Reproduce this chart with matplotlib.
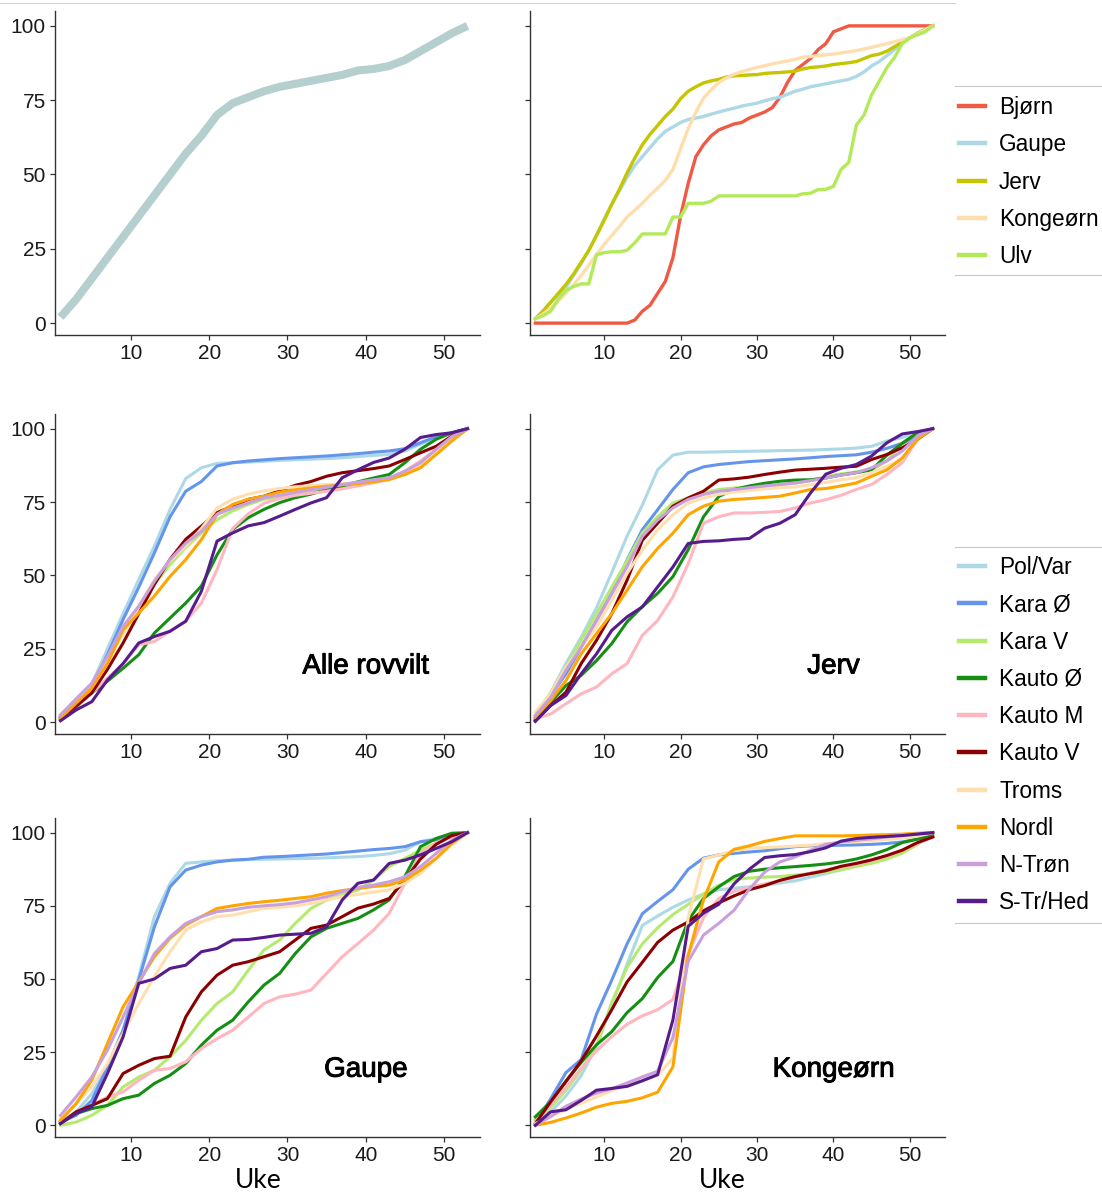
import matplotlib
matplotlib.use("Agg")
import matplotlib.pyplot as plt
import matplotlib.patheffects as pe
from matplotlib import font_manager as fm
from matplotlib.lines import Line2D

# weeks used for the regional panels and the total curve
weeks = list(range(1, 54, 2))
weeks_all = list(range(1, 54))

# total, all species
total = [2, 8, 15, 22, 29, 36, 43, 50, 57, 63, 70, 74, 76, 78, 79.5, 80.5, 81.5,
         82.5, 83.5, 85, 85.5, 86.5, 88.5, 91.5, 94.5, 97.5, 100]

# per species (weekly)
species = ["Bjørn", "Gaupe", "Jerv", "Kongeørn", "Ulv"]
species_colors = ["#EE5A44", "#ADD8E6", "#C5C500", "#FFDEAD", "#B3EA5A"]
bjorn = [0] * 13 + [1, 4, 6, 10, 14, 22, 36, 47, 56, 60, 63, 65, 66, 67, 67.5, 69, 70,
                    71, 72.5, 76, 81, 85, 87, 89, 92, 94, 98, 99, 100] + [100] * 11
gaupe = [1.5, 4, 7, 9.5, 12, 16, 20, 24.5, 29.5, 35, 40, 44.5, 49, 53, 56, 59, 62,
         64.5, 66, 67.5, 68.5, 69, 69.5, 70.3, 71, 71.7, 72.3, 73, 73.5, 74, 74.8,
         75.5, 76, 77, 78, 78.7, 79.5, 80, 80.5, 81, 81.5, 82, 83, 84.5, 86.5, 88,
         90, 92, 94.5, 96, 97.5, 98.8, 100]
jerv = [1.5, 4, 7, 10, 13, 16.5, 20.5, 24.5, 29.5, 34.5, 40, 45, 50.5, 55.5, 60,
        63.5, 66.5, 69.5, 72, 75.5, 78, 79.5, 80.8, 81.5, 82, 82.8, 83.2, 83.3, 83.5,
        83.6, 84, 84.2, 84.3, 84.5, 84.8, 85.5, 86, 86.2, 86.5, 87, 87.3, 87.6, 88,
        89, 90, 90.5, 91.5, 93, 94.5, 96, 97.5, 98.8, 100]
kongeorn = [1.5, 3, 5, 7.5, 10, 13, 16, 19.5, 23, 26.5, 29.5, 32.5, 35.7, 38, 40.3,
            43, 45.4, 48, 51.7, 58.6, 65.4, 71, 75.7, 78.5, 81, 82.5, 83.7, 84.6,
            85.3, 86, 86.6, 87.2, 87.7, 88.2, 88.8, 89.4, 89.7, 90, 90.3, 90.5, 90.9,
            91.3, 91.7, 92.2, 92.8, 93.4, 94, 94.7, 95.3, 96, 97.3, 98.6, 100]
ulv = [1.5, 2.5, 4, 8, 11, 12.3, 13.2, 13.2, 23, 23.7, 24, 24, 24.5, 27, 30, 30, 30,
       30, 35.7, 35.7, 40.3, 40.3, 40.3, 41, 42.8, 42.8, 42.8, 42.8, 42.8, 42.8,
       42.8, 42.8, 42.8, 42.8, 42.8, 43.5, 43.7, 44.9, 45, 46, 51.7, 54, 66.6, 70,
       76.8, 81.4, 86, 89.4, 94, 96, 97, 98, 100]
species_vals = [bjorn, gaupe, jerv, kongeorn, ulv]

# regions
regions = ["Pol/Var", "Kara Ø", "Kara V", "Kauto Ø", "Kauto M", "Kauto V",
           "Troms", "Nordl", "N-Trøn", "S-Tr/Hed"]
region_colors = ["#ADD8E6", "#6495ED", "#B4EB6E", "#148F14", "#FFB6C1", "#8B0000",
                 "#FFDFAF", "#FFA500", "#C9A0DC", "#561B8D"]

alle = {
    "Pol/Var": [2, 7, 13, 25, 37, 48.6, 60, 72.5, 83, 86.7, 88.2, 88.4, 88.6, 88.9, 89.2,
                89.4, 89.6, 89.8, 90.1, 90.5, 90.9, 91.2, 92.4, 94.7, 97, 98.6, 100],
    "Kara Ø": [2, 7, 12, 23, 35, 46, 57.7, 70, 78.7, 82, 87.3, 88.4, 89, 89.4, 89.8, 90.1,
               90.4, 90.7, 91.1, 91.5, 92, 92.4, 93.2, 95.2, 97.3, 98.6, 100],
    "Kara V": [2.5, 7.5, 13, 21.5, 30, 39.5, 47, 53.7, 59.5, 64.5, 69, 72, 74.2, 76, 76.7,
               77.5, 78.3, 79.3, 80.2, 81, 82, 83.3, 84.4, 86.7, 91.8, 96.4, 100],
    "Kauto Ø": [1, 5.3, 10, 14, 18.4, 23, 30.4, 35.5, 40.6, 46.4, 57, 65.7, 69.7, 72.5,
                74.8, 76.5, 77.7, 79.3, 80.4, 81.9, 83.2, 84.4, 88.4, 93, 96.4, 98.6, 100],
    "Kauto M": [1.4, 5.5, 10, 15, 20, 26.4, 27.5, 31, 34.4, 40.6, 52, 66, 71, 74.6, 76.2,
                77.3, 78, 78.7, 79.5, 80.5, 81.6, 82.7, 85.5, 89, 93, 96.4, 100],
    "Kauto V": [1.4, 5.5, 10, 18, 27, 37, 47, 55.5, 62.3, 66.8, 71.4, 73.6, 75.9, 77, 78.8,
                80.7, 82, 83.8, 85, 85.7, 86.4, 87.3, 89.5, 91.8, 94, 97.5, 100],
    "Troms": [2.5, 7.5, 12.7, 21.5, 30, 39.5, 48.6, 55, 60, 66, 73, 76, 77.7, 78.8, 79.6,
              80.2, 80.6, 81, 81.2, 81.5, 82, 82.7, 85, 87.8, 91.8, 96.4, 100],
    "Nordl": [1.4, 6.5, 11.7, 20, 31.5, 37.2, 43, 49.7, 55.4, 62.2, 70.8, 74.2, 76, 77,
              78.4, 79.2, 79.8, 80.4, 80.9, 81.3, 81.9, 82.7, 84.4, 86.7, 91.2, 95.8, 100],
    "N-Trøn": [2.5, 8, 13.3, 22.4, 32.7, 39.5, 48, 55.4, 61, 65, 70.8, 73, 74.7, 76.5,
               77.3, 78.3, 79.2, 80, 81, 81.8, 82.6, 83.3, 85.5, 88.4, 93, 97.3, 100],
    "S-Tr/Hed": [0.5, 4.2, 7, 14.4, 20, 27, 29.2, 31, 34.4, 44.6, 61.7, 64.5, 66.9, 68,
                 70.2, 72.5, 74.7, 76.5, 83.3, 86, 88.5, 90, 93, 97, 98, 98.6, 100],
}

jerv_reg = {
    "Pol/Var": [2.3, 10, 20, 29, 39, 51, 63.4, 74, 86, 91, 92, 92, 92.1, 92.2, 92.3, 92.4,
                92.5, 92.6, 92.7, 92.9, 93.1, 93.4, 94, 95.8, 97, 98.6, 100],
    "Kara Ø": [1.7, 9, 16.5, 25.5, 34.7, 44, 55.3, 65.6, 72.4, 79.3, 85, 87, 87.8, 88.3,
               88.8, 89.1, 89.4, 89.7, 90.1, 90.5, 90.8, 91.1, 92, 93.3, 95, 97.5, 100],
    "Kara V": [2.3, 10, 18.8, 28, 37, 46, 55, 64.5, 70, 74.7, 76.4, 78, 79.3, 79.8, 80.1,
               80.5, 81, 81.5, 82.3, 83.6, 84.6, 85.3, 86, 89, 95.2, 98.6, 100],
    "Kauto Ø": [1.1, 6.8, 12.5, 16, 21, 26.8, 34.2, 39.4, 43.9, 49.6, 58.8, 70, 76.9, 79.3,
                80.5, 81.4, 82.1, 82.5, 82.6, 83.2, 84.2, 85, 86, 91, 95, 98.6, 100],
    "Kauto M": [1.1, 2.8, 6.3, 9.7, 12, 16.5, 20, 29.6, 34.7, 42.7, 54, 67.8, 70, 71.3,
                71.3, 71.5, 71.8, 73, 74.7, 75.8, 77.3, 79.3, 81, 84.4, 88.4, 96.4, 100],
    "Kauto V": [0.6, 5.7, 10.2, 20, 27.9, 37, 48.4, 62, 67.8, 73.6, 76.4, 78.7, 82.5, 82.9,
                83.5, 84.4, 85.2, 85.9, 86.2, 86.5, 86.9, 87.2, 89.5, 91.2, 93.5, 96.4, 100],
    "Troms": [3.4, 9.7, 18.8, 25.6, 32.5, 41.6, 50.7, 58.7, 65.6, 70.7, 74.7, 76.4, 77.6,
              78.4, 79, 79.5, 79.9, 80.2, 80.9, 81.7, 82.6, 83.3, 85, 87.2, 89.5, 97.5, 100],
    "Nordl": [1.7, 7.4, 14.2, 23.3, 30.2, 37, 45, 53, 59.2, 64.4, 70.7, 73.6, 75.3, 75.9,
              76.2, 76.6, 77, 78.1, 79.3, 79.6, 80.5, 81.5, 83.8, 86, 90, 96.4, 100],
    "N-Trøn": [2.3, 8.5, 17.7, 25.6, 34.7, 43.8, 53, 63.3, 68.9, 73, 75.9, 77.6, 78.7, 79.3,
               79.9, 80.5, 81, 81.5, 82.3, 83.2, 84.2, 85, 86.7, 89, 92.4, 97.5, 100],
    "S-Tr/Hed": [0.3, 5.7, 9.1, 16.5, 23.3, 31.3, 35.9, 39.3, 46.1, 52.9, 60.9, 61.6, 61.8,
                 62.3, 62.6, 66.1, 67.8, 70.7, 78.1, 84.5, 86.5, 87.8, 90.7, 95.2, 98.2, 99, 100],
}

gaupe_reg = {
    "Pol/Var": [1.1, 4.6, 10.8, 20, 32.5, 50.8, 71.3, 82.7, 89.5, 90, 90.4, 90.6, 90.8,
                90.9, 91, 91.1, 91.2, 91.4, 91.6, 91.8, 92.2, 92.8, 94, 96.9, 98, 99.2, 100],
    "Kara Ø": [1.1, 3.4, 8.5, 20, 32.5, 49.6, 67.8, 81.5, 87.2, 88.9, 90, 90.6, 90.9, 91.6,
               91.8, 92.1, 92.4, 92.7, 93.2, 93.7, 94.2, 94.6, 95.2, 96.9, 97.5, 99.2, 100],
    "Kara V": [0, 1.1, 3.4, 6.8, 13.1, 16.5, 18.8, 23.4, 29, 35.9, 41.6, 45.6, 53, 59.9,
               63.3, 69, 74.1, 77, 78.7, 80.4, 83.8, 88.4, 91.2, 94, 96.4, 98.6, 100],
    "Kauto Ø": [1.1, 4, 5.7, 6.8, 9.1, 10.3, 14.3, 17.1, 21.1, 27.4, 32.5, 35.9, 42.2, 47.9,
                51.9, 58.7, 64.4, 67.3, 69, 70.7, 73.6, 77, 85, 95.2, 98, 99.8, 100],
    "Kauto M": [1.1, 4, 6.8, 9.7, 11.4, 15.4, 18.8, 19.4, 21.7, 26.2, 29.6, 32.5, 37, 41.6,
                43.9, 44.8, 46.2, 51.9, 57.6, 62.1, 66.7, 72.4, 82.7, 92.9, 96.4, 98.6, 100],
    "Kauto V": [0.6, 4.6, 6.8, 9.1, 17.7, 20.5, 22.8, 23.6, 37, 45.6, 51.3, 54.7, 55.9,
                57.6, 59.3, 63.3, 67.3, 68.4, 71.3, 74.2, 75.6, 77.5, 83.8, 91, 96, 99, 100],
    "Troms": [2.3, 7.4, 13.1, 21.1, 31.4, 41.6, 50.8, 59.3, 66.7, 69.5, 71.3, 71.8, 73,
              74.1, 74.5, 75, 75.8, 77, 78.1, 78.9, 79.7, 80.4, 82.7, 86.1, 91.2, 95.8, 100],
    "Nordl": [1.7, 7.4, 15.4, 27.9, 40.5, 49, 57.6, 63.9, 68.4, 71.3, 74.1, 75, 75.8, 76.4,
              76.9, 77.5, 78.1, 79.3, 80.2, 80.9, 81.6, 82.1, 83.8, 87.2, 91.2, 96.4, 100],
    "N-Trøn": [3.4, 9.7, 16.5, 25.7, 37, 48.5, 58.7, 64.4, 69, 71.3, 73, 73.6, 74.5, 75,
               75.4, 76, 77, 78.1, 79.8, 81.3, 82.1, 83.2, 84.9, 88.4, 92.9, 97.5, 100],
    "S-Tr/Hed": [0.6, 4, 6.3, 17.7, 30.2, 48.5, 50, 53.6, 54.7, 59.3, 60.4, 63.3, 63.5,
                 64.2, 65, 65.3, 65.6, 67.8, 77, 82.7, 83.8, 89.5, 90.6, 92.4, 94.6, 96.9, 100],
}

kongeorn_reg = {
    "Pol/Var": [1.5, 4.5, 10, 17, 27, 41, 55, 68.3, 71.5, 74.5, 77, 79, 80.5, 81, 81.5, 82,
                82.8, 83.5, 84.8, 86, 87.3, 88.6, 90, 91.5, 93.3, 96, 100],
    "Kara Ø": [0.6, 9, 18, 22.5, 38, 49.6, 62, 72.3, 76.5, 80.5, 87.5, 91.3, 92.4, 92.9,
               93.4, 93.8, 94.5, 95.2, 95.5, 95.6, 95.7, 95.8, 96, 96.3, 96.8, 97.8, 100],
    "Kara V": [2, 6, 12, 19, 27, 42, 54, 62, 67.5, 72, 75.5, 79, 82, 84, 84.5, 84.8, 85,
               85.5, 86, 86.5, 87.3, 88.5, 89.5, 91, 93, 96, 100],
    "Kauto Ø": [2.9, 8, 15, 21.5, 27.5, 32, 38.5, 43.3, 50.5, 56, 70, 77.5, 81.5, 85, 86.8,
                87.5, 88, 88.4, 88.8, 89.3, 90, 91, 92.4, 94.2, 96.6, 97.8, 99],
    "Kauto M": [1, 7, 13, 19.5, 25.5, 30.3, 34.5, 37.4, 39.5, 43, 58.5, 71, 77.5, 80, 81.2,
                82.5, 83.5, 84.8, 86.2, 87.3, 88.3, 89.2, 90.4, 92, 94, 96.3, 98.5],
    "Kauto V": [0.6, 8, 15, 22, 30.5, 39.5, 49, 55.7, 62.5, 66.7, 69.5, 73.3, 76, 78.4,
                80.5, 81.9, 83.7, 85, 86, 87, 88.5, 89.5, 90.7, 92.2, 94, 96.6, 98.5],
    "Troms": [0.6, 3, 5.5, 7.5, 9.7, 11.8, 14, 15.3, 17, 23, 71, 91, 92.4, 93.8, 94.7, 94.9,
              95.1, 95.4, 95.7, 96.2, 96.6, 97, 97.3, 97.7, 98.1, 98.8, 100],
    "Nordl": [0, 1, 2.5, 4.2, 6.2, 7.5, 8.2, 9.4, 11.3, 20, 58, 77, 90, 94.3, 95.5, 97, 98,
              98.9, 98.9, 98.9, 98.9, 99, 99.2, 99.3, 99.5, 99.8, 100],
    "N-Trøn": [0, 3, 6.5, 9, 11, 12.5, 14.5, 16.5, 18.5, 30, 56, 65, 69, 73.5, 80.7, 86.5,
               90, 91.7, 94, 96, 96.8, 97.4, 97.9, 98.5, 99.2, 99.6, 100],
    "S-Tr/Hed": [0, 4.6, 5.3, 8.5, 12, 12.6, 13.3, 15.2, 17.3, 36, 68, 72.5, 75.5, 82.5,
                 87.5, 91.5, 92.1, 92.5, 93.5, 94.8, 97.1, 98, 98.4, 98.7, 99, 99.5, 100],
}

W, H = 1102, 1193

# narrow font if there is one, otherwise plain Liberation Sans a bit smaller
installed = {f.name for f in fm.fontManager.ttflist}
if "Liberation Sans Narrow" in installed:
    base_font, tick_size, leg_size = "Liberation Sans Narrow", 17, 20
else:
    base_font, tick_size, leg_size = "Liberation Sans", 15, 16.3
plt.rcParams["font.family"] = [base_font, "DejaVu Sans"]

fig = plt.figure(figsize=(W / 100, H / 100), dpi=100)


def make_axes(x0, x1, top, bottom, show_ylabels):
    ax = fig.add_axes([x0 / W, 1 - bottom / H, (x1 - x0) / W, (bottom - top) / H])
    ax.set_xlim(0.3, 54.6)
    ax.set_ylim(-4, 105)
    ax.set_xticks([10, 20, 30, 40, 50])
    ax.set_yticks([0, 25, 50, 75, 100])
    for s in ["top", "right"]:
        ax.spines[s].set_visible(False)
    for s in ["left", "bottom"]:
        ax.spines[s].set_color("#333333")
        ax.spines[s].set_linewidth(1.0)
    ax.tick_params(length=3.5, width=0.9, color="#333333", labelsize=tick_size,
                   labelcolor="#1a1a1a", pad=3)
    if not show_ylabels:
        ax.tick_params(labelleft=False)
    return ax


cols = [(55, 480), (530, 945)]
rows = [(11, 335), (414, 734), (818, 1137)]

ax_tot = make_axes(*cols[0], *rows[0], True)
ax_sp = make_axes(*cols[1], *rows[0], False)
ax_alle = make_axes(*cols[0], *rows[1], True)
ax_jerv = make_axes(*cols[1], *rows[1], False)
ax_gaupe = make_axes(*cols[0], *rows[2], True)
ax_kong = make_axes(*cols[1], *rows[2], False)

ax_tot.plot(weeks, total, color="#B4CFCE", lw=5.8, solid_capstyle="butt")

sp_handles = []
for name, vals, c in zip(species, species_vals, species_colors):
    ax_sp.plot(weeks_all, vals, color=c, lw=2.4)
    sp_handles.append(Line2D([], [], color=c, lw=3.2))

reg_handles = [Line2D([], [], color=c, lw=3.2) for c in region_colors]

for ax, data, label in [(ax_alle, alle, "Alle rovvilt"), (ax_jerv, jerv_reg, "Jerv"),
                        (ax_gaupe, gaupe_reg, "Gaupe"), (ax_kong, kongeorn_reg, "Kongeørn")]:
    for r, c in zip(regions, region_colors):
        ax.plot(weeks, data[r], color=c, lw=2.2)
    ax.text(40, 19, label, ha="center", va="center", fontsize=20,
            family=["Liberation Sans", "DejaVu Sans"], color="black",
            path_effects=[pe.withStroke(linewidth=0.7, foreground="black")])

for x in [258, 722]:
    fig.text(x / W, 1 - 1181 / H, "Uke", ha="center", va="center", fontsize=19,
             family=["Lato", "DejaVu Sans"], color="black")

leg_kw = dict(loc="upper left", frameon=False, fontsize=leg_size, handlelength=1.15,
              handletextpad=0.62, labelspacing=0.63, borderpad=0, borderaxespad=0)
fig.legend(sp_handles, species, bbox_to_anchor=(959 / W, 1 - 96 / H), **leg_kw)
fig.legend(reg_handles, regions, bbox_to_anchor=(959 / W, 1 - 556 / H), **leg_kw)

# thin grey rules above/below the legends and along the top
for y in [86, 275, 547, 923]:
    fig.add_artist(Line2D([955 / W, 1], [1 - y / H] * 2, transform=fig.transFigure,
                          color="#C8C8C8", lw=0.8))
fig.add_artist(Line2D([0, 955 / W], [1 - 3 / H] * 2, transform=fig.transFigure,
                      color="#D0D0D0", lw=0.8))

fig.savefig("out.png", dpi=100)
